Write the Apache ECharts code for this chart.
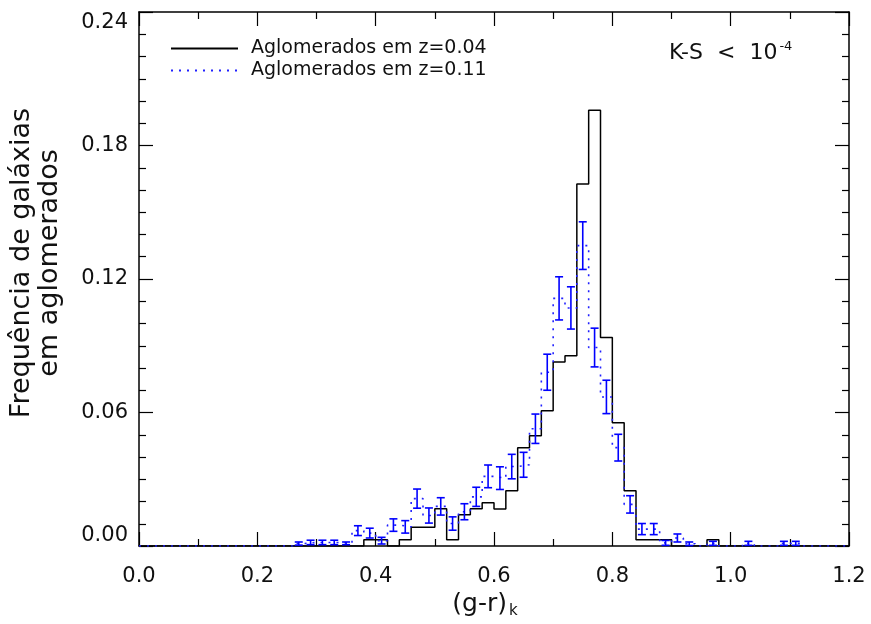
<!DOCTYPE html>
<html>
<head>
<meta charset="utf-8">
<script src="https://cdn.jsdelivr.net/npm/echarts@6/dist/echarts.min.js"></script>
<style>
  html, body { margin: 0; padding: 0; background: #fff; }
  #chart { width: 871px; height: 624px; }
</style>
</head>
<body>
<div id="chart"></div>
<script>
// histogram bins of width 0.02
const binWidth = 0.02;
const xMin = 0.0;
const xMax = 1.2;

// clusters at z=0.04 (solid black), first bin starts at 0.38
const nearStart = 0.38;
const nearFreq = [0.0028, 0.0028, 0, 0.0028, 0.0084, 0.0084, 0.0167, 0.0028, 0.0140, 0.0167,
  0.0194, 0.0166, 0.0248, 0.0442, 0.0496, 0.0608, 0.0827, 0.0855, 0.1627, 0.1958,
  0.0937, 0.0554, 0.0248, 0.0028, 0.0028, 0.0028, 0, 0, 0, 0.0028];

// clusters at z=0.11 (dotted blue + error bars), first bin starts at 0.26
const farStart = 0.26;
const farFreq = [0.0011, 0.0016, 0.0016, 0.0016, 0.0012, 0.0069, 0.0058, 0.0024, 0.0094, 0.0086,
  0.0213, 0.0137, 0.0178, 0.0101, 0.0154, 0.0221, 0.0313, 0.0305, 0.0357, 0.0365,
  0.0527, 0.0781, 0.1113, 0.1070, 0.1350, 0.0892, 0.0670, 0.0442, 0.0187, 0.0076,
  0.0076, 0.0014, 0.0036, 0.0010, 0, 0.0012, 0, 0, 0.0012, 0,
  0, 0.0012, 0.0012];
const farErr = [0.0007, 0.0010, 0.0010, 0.0010, 0.0006, 0.0022, 0.0022, 0.0015, 0.0028, 0.0028,
  0.0043, 0.0034, 0.0039, 0.0030, 0.0036, 0.0043, 0.0051, 0.0051, 0.0055, 0.0056,
  0.0066, 0.0081, 0.0097, 0.0095, 0.0107, 0.0087, 0.0075, 0.0060, 0.0039, 0.0025,
  0.0025, 0.0011, 0.0018, 0.0008, 0, 0.0009, 0, 0, 0.0009, 0,
  0, 0.0009, 0.0009];

const xTicks = [0.0, 0.2, 0.4, 0.6, 0.8, 1.0, 1.2];
const yTicks = [0.00, 0.06, 0.12, 0.18, 0.24];

const nameNear = 'Aglomerados em z=0.04';
const nameFar = 'Aglomerados em z=0.11';

// step points over the whole axis; empty bins are zero
function stepData(start, freq) {
  const nBins = Math.round((xMax - xMin) / binWidth);
  const pts = [];
  let last = 0;
  for (let i = 0; i < nBins; i++) {
    const x = +(xMin + i * binWidth).toFixed(2);
    const j = Math.round((x - start) / binWidth);
    last = (j >= 0 && j < freq.length) ? freq[j] : 0;
    pts.push([x, last]);
  }
  pts.push([xMax, last]);
  return pts;
}

function errData(start, freq, err) {
  const out = [];
  freq.forEach((v, i) => {
    if (err[i] > 0) out.push([+(start + i * binWidth + binWidth / 2).toFixed(3), v, err[i]]);
  });
  return out;
}

const font = 'DejaVu Sans';
const ink = '#111';
const chart = echarts.init(document.getElementById('chart'));

const axisLine = { show: true, onZero: false, lineStyle: { color: '#000', width: 1.5 } };
const tick = { show: true, inside: true, length: 14, lineStyle: { color: '#000', width: 1.2 } };
const minorTickX = { show: true, splitNumber: 2, length: 7, lineStyle: { color: '#000', width: 1.2 } };
const minorTickY = { show: true, splitNumber: 6, length: 7, lineStyle: { color: '#000', width: 1.2 } };

chart.setOption({
  animation: false,
  backgroundColor: '#fff',
  grid: { left: 139, right: 22, top: 12, bottom: 76 },
  legend: {
    data: [nameNear, nameFar],
    orient: 'vertical',
    left: 170,
    top: 39,
    padding: 0,
    itemWidth: 67,
    itemHeight: 14,
    itemGap: 3,
    itemStyle: { opacity: 0 },
    textStyle: { fontFamily: font, fontSize: 19, color: ink, lineHeight: 14, padding: [0, 0, 0, 8] }
  },
  xAxis: [
    {
      type: 'value', position: 'bottom', min: xMin, max: xMax, interval: 0.2,
      axisLine, axisTick: tick, minorTick: minorTickX, splitLine: { show: false },
      axisLabel: { fontFamily: font, fontSize: 21, color: ink, margin: 20,
        formatter: v => v.toFixed(1) },
      name: '{a|(g-r)}{b|k}',
      nameLocation: 'middle',
      nameGap: 44,
      nameTextStyle: {
        fontFamily: font, color: ink, padding: [0, 18, 0, 0],
        rich: {
          a: { fontFamily: font, fontSize: 25, color: ink },
          b: { fontFamily: font, fontSize: 15, color: ink, padding: [14, 0, 0, 2] }
        }
      }
    },
    {
      type: 'value', position: 'top', min: xMin, max: xMax, interval: 0.2,
      axisLine, axisTick: tick, minorTick: minorTickX, splitLine: { show: false },
      axisLabel: { show: false }
    }
  ],
  yAxis: [
    {
      type: 'value', position: 'left', min: 0, max: 0.24, interval: 0.06,
      axisLine, axisTick: tick, minorTick: minorTickY, splitLine: { show: false },
      axisLabel: { fontFamily: font, fontSize: 21, color: ink, margin: 11,
        verticalAlignMinLabel: 'bottom', verticalAlignMaxLabel: 'top',
        formatter: v => v.toFixed(2) }
    },
    {
      type: 'value', position: 'right', min: 0, max: 0.24, interval: 0.06,
      axisLine, axisTick: tick, minorTick: minorTickY, splitLine: { show: false },
      axisLabel: { show: false }
    }
  ],
  graphic: [
    {
      type: 'text', x: 36, y: 263, rotation: Math.PI / 2,
      style: {
        text: 'Frequência de galáxias\nem aglomerados',
        font: '27px "DejaVu Sans"', fill: ink,
        align: 'center', verticalAlign: 'middle', lineHeight: 28
      }
    },
    {
      type: 'text', x: 669, y: 53,
      style: {
        text: '{a|K-S  <  10}{b|-4}',
        fill: ink,
        align: 'left', verticalAlign: 'middle',
        rich: {
          a: { font: '22px "DejaVu Sans"', fill: ink },
          b: { font: '13px "DejaVu Sans"', fill: ink, padding: [0, 0, 13, 2] }
        }
      }
    }
  ],
  series: [
    {
      name: nameNear,
      type: 'line',
      step: 'end',
      data: stepData(nearStart, nearFreq),
      symbol: 'none',
      lineStyle: { color: '#000', width: 1.5 },
      itemStyle: { color: '#000' },
      z: 3
    },
    {
      name: nameFar,
      type: 'line',
      step: 'end',
      data: stepData(farStart, farFreq),
      symbol: 'none',
      lineStyle: { color: '#2020ff', width: 1.6, type: [2, 6] },
      itemStyle: { color: '#2020ff' },
      z: 4
    },
    {
      name: 'errors',
      type: 'custom',
      data: errData(farStart, farFreq, farErr),
      z: 5,
      renderItem: (params, api) => {
        const x = api.value(0), v = api.value(1), e = api.value(2);
        const top = api.coord([x, v + e]);
        const bot = api.coord([x, v - e]);
        const cap = 4;
        const style = { stroke: '#0000ff', lineWidth: 1.6 };
        return {
          type: 'group',
          children: [
            { type: 'line', shape: { x1: top[0], y1: top[1], x2: bot[0], y2: bot[1] }, style },
            { type: 'line', shape: { x1: top[0] - cap, y1: top[1], x2: top[0] + cap, y2: top[1] }, style },
            { type: 'line', shape: { x1: bot[0] - cap, y1: bot[1], x2: bot[0] + cap, y2: bot[1] }, style }
          ]
        };
      }
    }
  ]
});
</script>
</body>
</html>
